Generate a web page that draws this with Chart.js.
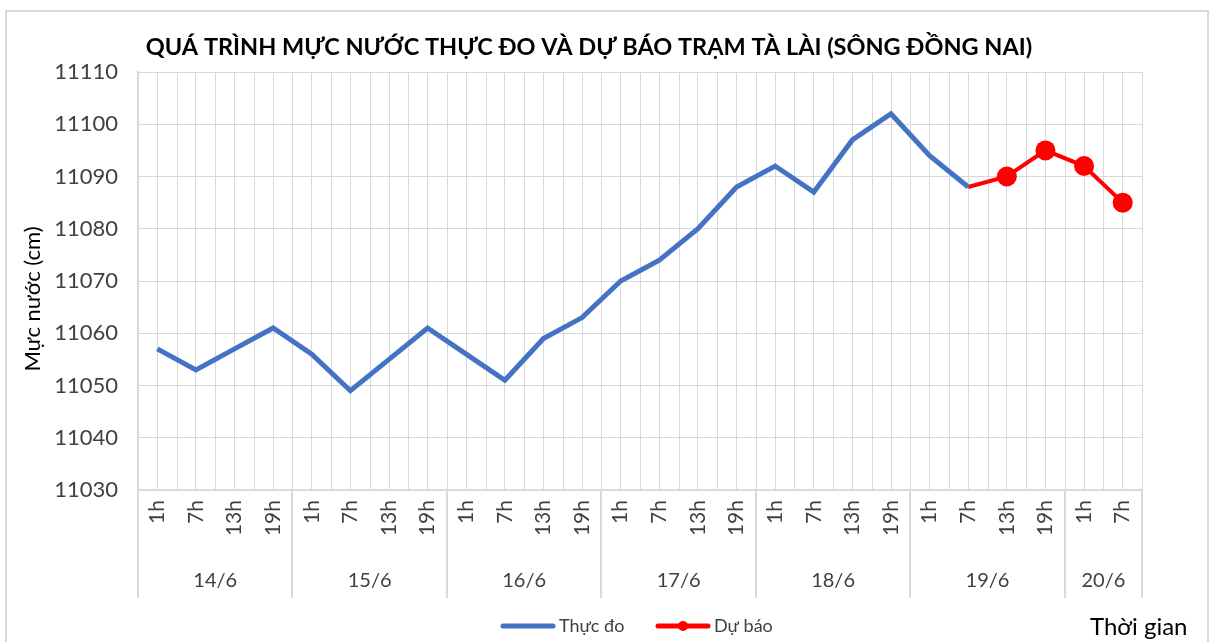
<!DOCTYPE html>
<html>
<head>
<meta charset="utf-8">
<title>Mực nước Tà Lài</title>
<script src="https://cdn.jsdelivr.net/npm/chart.js"></script>
<style>
  html, body { margin: 0; padding: 0; background: #fff; }
  #wrap { position: relative; width: 1212px; height: 642px; overflow: hidden; }
  #frame { position: absolute; left: 5px; top: 10px; width: 1200px; height: 700px; border: 2px solid #d9d9d9; }
  canvas { position: absolute; left: 0; top: 0; }
</style>
</head>
<body>
<div id="wrap">
  <div id="frame"></div>
  <canvas id="chart" width="1212" height="642"></canvas>
</div>
<script>
const hours = ['1h','7h','13h','19h','1h','7h','13h','19h','1h','7h','13h','19h',
  '1h','7h','13h','19h','1h','7h','13h','19h','1h','7h','13h','19h','1h','7h'];
const days = ['14/6','15/6','16/6','17/6','18/6','19/6','20/6'];
const daySpans = [4, 4, 4, 4, 4, 4, 2];
const measured = [11057,11053,11057,11061, 11056,11049,11055,11061, 11056,11051,11059,11063,
  11070,11074,11080,11088, 11092,11087,11097,11102, 11094,11088,null,null, null,null];
const forecast = [null,null,null,null, null,null,null,null, null,null,null,null,
  null,null,null,null, null,null,null,null, null,11088,11090,11095, 11092,11085];
const forecastMarker = [0,0,0,0, 0,0,0,0, 0,0,0,0, 0,0,0,0, 0,0,0,0, 0,0,1,1, 1,1];

const FONT = 'Lato, "Noto Sans", sans-serif';
const GRID = '#d9d9d9';
const TEXT = '#404040';

const extras = {
  id: 'extras',
  beforeDatasetsDraw(chart) {
    const {ctx, chartArea: a} = chart;
    const step = (a.right - a.left) / hours.length;
    ctx.save();
    ctx.strokeStyle = GRID; ctx.lineWidth = 1;
    for (let i = 0; i <= hours.length; i++) {
      const x = Math.round(a.left + i * step) + 0.5;
      ctx.beginPath(); ctx.moveTo(x, a.top); ctx.lineTo(x, a.bottom); ctx.stroke();
    }
    ctx.restore();
  },
  afterDraw(chart) {
    const {ctx, chartArea: a} = chart;
    const step = (a.right - a.left) / hours.length;
    ctx.save();
    // day separators and labels
    ctx.strokeStyle = GRID; ctx.lineWidth = 2;
    let idx = 0;
    const bounds = [0];
    daySpans.forEach(n => { idx += n; bounds.push(idx); });
    bounds.forEach(b => {
      const x = Math.round(a.left + b * step);
      ctx.beginPath(); ctx.moveTo(x, a.bottom); ctx.lineTo(x, a.bottom + 108); ctx.stroke();
    });
    ctx.fillStyle = TEXT;
    ctx.font = '20px ' + FONT;
    ctx.textAlign = 'center'; ctx.textBaseline = 'middle';
    days.forEach((d, i) => {
      const x = a.left + (bounds[i] + bounds[i + 1]) / 2 * step;
      ctx.fillText(d, x, 581);
    });
    // title
    ctx.fillStyle = '#000';
    ctx.font = 'bold 23.5px ' + FONT;
    ctx.fillText('QUÁ TRÌNH MỰC NƯỚC THỰC ĐO VÀ DỰ BÁO TRẠM TÀ LÀI (SÔNG ĐỒNG NAI)', 589, 47);
    // y axis title
    ctx.save();
    ctx.translate(33, 299);
    ctx.rotate(-Math.PI / 2);
    ctx.font = '22px ' + FONT;
    ctx.fillText('Mực nước (cm)', 0, 0);
    ctx.restore();
    // x axis title
    ctx.font = '24px ' + FONT;
    ctx.textAlign = 'left';
    ctx.fillText('Thời gian', 1090, 627);
    // legend
    const ds = chart.data.datasets;
    const lx = [500, 655];
    ctx.font = '18px ' + FONT;
    ctx.lineCap = 'round';
    ds.forEach((d, i) => {
      const x0 = lx[i], y = 626;
      ctx.strokeStyle = d.borderColor; ctx.fillStyle = d.borderColor;
      ctx.lineWidth = 5;
      ctx.beginPath(); ctx.moveTo(x0 + 3, y); ctx.lineTo(x0 + 53, y); ctx.stroke();
      if (i === 1) { ctx.beginPath(); ctx.arc(x0 + 28, y, 5, 0, Math.PI * 2); ctx.fill(); }
      ctx.fillStyle = TEXT;
      ctx.fillText(d.label, x0 + 59, y);
    });
    ctx.restore();
  }
};

new Chart(document.getElementById('chart'), {
  type: 'line',
  data: {
    labels: hours,
    datasets: [
      {
        label: 'Thực đo',
        data: measured,
        borderColor: '#4472C4',
        backgroundColor: '#4472C4',
        borderWidth: 5,
        pointRadius: 0,
        tension: 0
      },
      {
        label: 'Dự báo',
        data: forecast,
        borderColor: '#FF0000',
        backgroundColor: '#FF0000',
        borderWidth: 4,
        pointRadius: forecastMarker.map(m => m ? 10 : 0),
        pointBorderWidth: 0,
        tension: 0
      }
    ]
  },
  options: {
    responsive: false,
    animation: false,
    layout: { padding: { left: 10, right: 70, top: 72, bottom: 44 } },
    scales: {
      x: {
        offset: true,
        grid: { color: GRID, offset: false, drawTicks: false },
        border: { color: GRID, width: 2 },
        ticks: {
          autoSkip: false, minRotation: 90, maxRotation: 90, padding: 10,
          color: TEXT, font: { family: FONT, size: 21 }
        },
        afterFit(s) { s.height = 108; }
      },
      y: {
        min: 11030, max: 11110,
        grid: { color: GRID, drawTicks: false },
        border: { color: GRID, width: 2 },
        ticks: {
          stepSize: 10, padding: 20, color: TEXT, font: { family: FONT, size: 22 },
          callback: v => String(v)
        },
        afterFit(s) { s.width = 128; }
      }
    },
    plugins: {
      legend: { display: false },
      tooltip: { enabled: false }
    }
  },
  plugins: [extras]
});
</script>
</body>
</html>
